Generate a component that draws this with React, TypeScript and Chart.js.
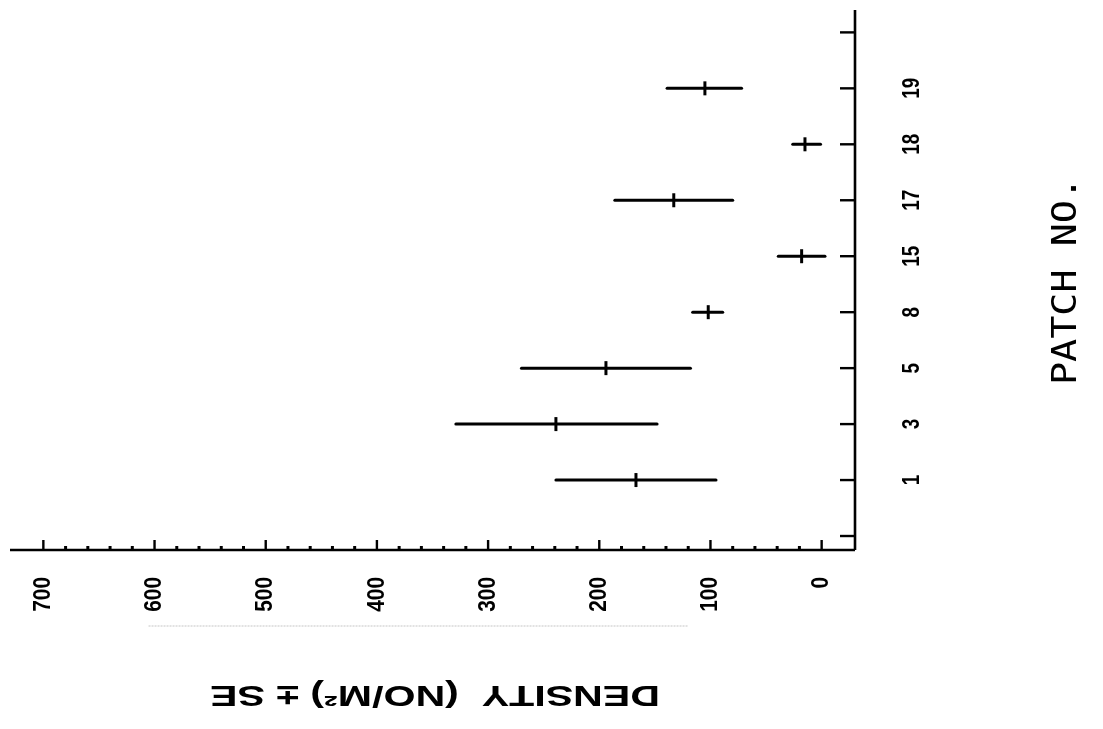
import React, { useEffect, useRef } from 'react';
import { Chart, registerables } from 'chart.js';

Chart.register(...registerables);

// Patch numbers (categories, bottom to top)
const patches: string[] = ['1', '3', '5', '8', '15', '17', '18', '19'];
// Mean density (NO/M²) and the lower / upper ends of the ± SE bars
const meanDensity: number[] = [167, 239, 194, 102, 18, 133, 15, 105];
const lowerSE: number[] = [95, 148, 118, 89, -3, 80, 1, 72];
const upperSE: number[] = [239, 329, 270, 116, 39, 186, 26, 139];
// Axis ticks
const densityTickLabels: number[] = [0, 100, 200, 300, 400, 500, 600, 700];
const densityMinorStep = 20;
const patchTickCount = 10; // ticks at index 0..9, labels at 1..8

const axisTitleX = 'DENSITY  (NO/M²) ± SE';
const axisTitleY = 'PATCH NO.';

function drawText(
  ctx: CanvasRenderingContext2D,
  text: string,
  x: number,
  y: number,
  angle: number,
  font: string,
  align: CanvasTextAlign,
  targetLen?: number
) {
  ctx.save();
  ctx.translate(x, y);
  ctx.rotate(angle);
  ctx.font = font;
  ctx.textAlign = align;
  ctx.textBaseline = 'middle';
  ctx.fillStyle = '#000';
  if (targetLen) {
    const w = ctx.measureText(text).width;
    ctx.scale(targetLen / w, 1);
  }
  ctx.fillText(text, 0, 0);
  ctx.restore();
}

const axesPlugin = {
  id: 'rotatedAxes',
  beforeDatasetsDraw(chart: any) {
    const ctx: CanvasRenderingContext2D = chart.ctx;
    const xs = chart.scales.x;
    const ys = chart.scales.y;
    const { left, right, top, bottom } = chart.chartArea;
    ctx.save();
    ctx.strokeStyle = '#000';
    ctx.lineWidth = 2.6;
    ctx.lineCap = 'butt';
    // horizontal density axis
    ctx.beginPath();
    ctx.moveTo(left, bottom);
    ctx.lineTo(right, bottom);
    ctx.stroke();
    // vertical patch axis
    ctx.beginPath();
    ctx.moveTo(right, top);
    ctx.lineTo(right, bottom);
    ctx.stroke();
    // density ticks (major every 100, minor every 20)
    const maxD = densityTickLabels[densityTickLabels.length - 1];
    for (let v = 0; v <= maxD; v += densityMinorStep) {
      const px = xs.getPixelForValue(v);
      const major = v % 100 === 0;
      ctx.lineWidth = major ? 2.4 : 3;
      ctx.beginPath();
      ctx.moveTo(px, bottom);
      ctx.lineTo(px, bottom - (major ? 10 : 4));
      ctx.stroke();
    }
    // patch ticks
    ctx.lineWidth = 2.4;
    for (let i = 0; i < patchTickCount; i++) {
      const py = ys.getPixelForValue(i);
      ctx.beginPath();
      ctx.moveTo(right, py);
      ctx.lineTo(right - 15, py);
      ctx.stroke();
    }
    // faint scan line under the tick labels
    ctx.strokeStyle = 'rgba(150,150,150,0.55)';
    ctx.lineWidth = 1;
    ctx.setLineDash([2, 1]);
    ctx.beginPath();
    ctx.moveTo(xs.getPixelForValue(600) - 6, 626);
    ctx.lineTo(xs.getPixelForValue(120), 626);
    ctx.stroke();
    ctx.restore();
  },
  afterDraw(chart: any) {
    const ctx: CanvasRenderingContext2D = chart.ctx;
    const xs = chart.scales.x;
    const ys = chart.scales.y;
    const { right } = chart.chartArea;
    const tickFont = 'bold 24px "Liberation Sans", Arial, sans-serif';
    densityTickLabels.forEach((v) => {
      const s = String(v);
      drawText(ctx, s, xs.getPixelForValue(v), 577, -Math.PI / 2, tickFont, 'right', s.length * 11.6);
    });
    patches.forEach((p, i) => {
      drawText(ctx, p, right + 57, ys.getPixelForValue(i + 1), -Math.PI / 2, tickFont, 'center', p.length * 10.5);
    });
    drawText(ctx, axisTitleY, 1067, 281, -Math.PI / 2, '34px "DejaVu Sans Mono", monospace', 'center', 208);
    drawText(ctx, axisTitleX, 435, 694, Math.PI, 'bold 29px "Liberation Sans", Arial, sans-serif', 'center', 450);
  },
};

export default function App() {
  const canvasRef = useRef<HTMLCanvasElement | null>(null);

  useEffect(() => {
    const canvas = canvasRef.current;
    if (!canvas) return;

    const barDatasets: any[] = patches.map((p, i) => ({
      type: 'line',
      label: 'Patch ' + p,
      data: [
        { x: lowerSE[i], y: i + 1 },
        { x: upperSE[i], y: i + 1 },
      ],
      borderColor: '#000',
      borderWidth: 3,
      borderCapStyle: 'round',
      pointRadius: 0,
      showLine: true,
      fill: false,
    }));

    const meanDataset: any = {
      type: 'scatter',
      label: 'Mean',
      data: meanDensity.map((m, i) => ({ x: m, y: i + 1 })),
      pointStyle: 'line',
      pointRotation: 90,
      pointRadius: 7,
      pointBorderWidth: 3,
      pointBorderColor: '#000',
      pointBackgroundColor: '#000',
      borderColor: '#000',
    };

    const chart = new Chart(canvas, {
      type: 'scatter',
      data: { datasets: [...barDatasets, meanDataset] },
      options: {
        responsive: false,
        animation: false,
        layout: { padding: { left: 8, top: 4, right: 248, bottom: 179 } },
        scales: {
          x: { type: 'linear', min: -30, max: 730, reverse: true, display: false },
          y: { type: 'linear', min: -0.25, max: 9.4, display: false },
        },
        plugins: {
          legend: { display: false },
          tooltip: { enabled: false },
        },
      },
      plugins: [axesPlugin],
    } as any);

    return () => chart.destroy();
  }, []);

  return (
    <div style={{ position: 'fixed', left: 0, top: 0, width: 1103, height: 729, background: '#fff' }}>
      <canvas ref={canvasRef} width={1103} height={729} style={{ width: 1103, height: 729 }} />
    </div>
  );
}
